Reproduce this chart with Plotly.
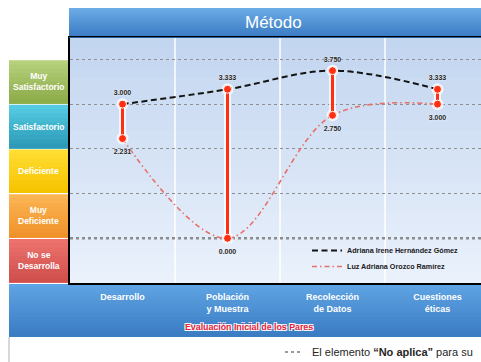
import plotly.graph_objects as go

# ---- data -------------------------------------------------------------
categories = ["Desarrollo", "Población y Muestra", "Recolección de Datos", "Cuestiones éticas"]
series_names = ["Adriana Irene Hernández Gómez", "Luz Adriana Orozco Ramírez"]
adriana_hernandez = [3.000, 3.333, 3.750, 3.333]
luz_orozco = [2.231, 0.000, 2.750, 3.000]
rating_levels = ["No se<br>Desarrolla", "Muy<br>Deficiente", "Deficiente", "Satisfactorio", "Muy<br>Satisfactorio"]
level_ticks = [0, 1, 2, 3, 4]
chart_title = "Método"
axis_title = "Evaluación Inicial de los Pares"
footnote = "El elemento <b>“No aplica”</b> para su<br> evaluación"

# ---- geometry helpers (figure pixels -> paper coordinates) -------------
W, H = 481, 362
ML, MR, MT, MB = 70, 0, 38, 79
PW, PH = W - ML - MR, H - MT - MB


def px_x(px):
    return (px - ML) / PW


def px_y(py):
    return (H - MB - py) / PH


def hex_to_rgb(c):
    c = c.lstrip("#")
    return tuple(int(c[i:i + 2], 16) for i in (0, 2, 4))


def mix(c1, c2, t):
    a, b = hex_to_rgb(c1), hex_to_rgb(c2)
    return "rgb(%d,%d,%d)" % tuple(round(a[i] + (b[i] - a[i]) * t) for i in range(3))


def gradient(x0, y0, x1, y1, top, bottom, n=16, xref="paper", yref="paper", layer="below"):
    """Vertical gradient: stacked rectangles, each running from its own start
    down to the bottom edge, so neighbouring bands never leave a seam."""
    out = []
    for i in range(n):
        ya = y0 + (y1 - y0) * i / n
        out.append(dict(type="rect", xref=xref, yref=yref, x0=x0, x1=x1, y0=ya, y1=y1,
                        fillcolor=mix(top, bottom, i / max(n - 1, 1)),
                        line=dict(width=0), layer=layer))
    return out


SANS = "Liberation Sans, Arial, sans-serif"

xs = list(range(len(categories)))
hi = [max(a, b) for a, b in zip(adriana_hernandez, luz_orozco)]
lo = [min(a, b) for a, b in zip(adriana_hernandez, luz_orozco)]

# high-low connector segments between the two evaluators
seg_x, seg_y = [], []
for x, h, l in zip(xs, hi, lo):
    seg_x += [x, x, None]
    seg_y += [h, l, None]

fig = go.Figure()

# soft white halo under the connectors
fig.add_trace(go.Scatter(x=seg_x, y=seg_y, mode="lines+markers", showlegend=False,
                         line=dict(color="rgba(255,255,255,0.75)", width=7),
                         marker=dict(size=12, color="rgba(255,255,255,0.75)"),
                         hoverinfo="skip"))

fig.add_trace(go.Scatter(x=xs, y=adriana_hernandez, name=series_names[0], mode="lines",
                         legend="legend",
                         line=dict(color="#141414", width=2, dash="6px,3.5px", shape="spline",
                                   smoothing=1)))
fig.add_trace(go.Scatter(x=xs, y=luz_orozco, name=series_names[1], mode="lines",
                         legend="legend2",
                         line=dict(color="#e8706a", width=1.6, dash="5px,3px,1.5px,3px",
                                   shape="spline", smoothing=1)))

fig.add_trace(go.Scatter(x=seg_x, y=seg_y, mode="lines+markers", showlegend=False,
                         line=dict(color="#ff2f12", width=3),
                         marker=dict(size=8, color="#ff2f12", line=dict(color="#ffffff", width=1)),
                         hoverinfo="skip"))

# value labels: an invisible marker keeps the text clear of the end points
label_font = dict(family=SANS, size=7, color="#262626", weight="bold",
                  shadow="0px 0px 2px #ffffff")
spacer = dict(size=10, color="rgba(0,0,0,0)")
fig.add_trace(go.Scatter(x=xs, y=hi, mode="markers+text", showlegend=False,
                         text=[f"{v:.3f}" for v in hi], marker=spacer,
                         textposition="top center", textfont=label_font, hoverinfo="skip"))
fig.add_trace(go.Scatter(x=xs, y=lo, mode="markers+text", showlegend=False,
                         text=[f"{v:.3f}" for v in lo], marker=dict(spacer, size=15),
                         textposition="bottom center", textfont=label_font, hoverinfo="skip"))

shapes = []
# plot background
shapes += gradient(0, 1, 1, 0, "#c3d6f0", "#eaf1fb", n=24)
# title bar
shapes += gradient(px_x(69), px_y(8), 1, px_y(37), "#6cabe6", "#3b7cc4", n=14)
shapes.append(dict(type="line", xref="paper", yref="paper", x0=px_x(69), x1=1,
                   y0=px_y(37.5), y1=px_y(37.5), line=dict(color="#2b5f9a", width=1)))
# bottom category bar
shapes += gradient(px_x(9), px_y(284), 1, px_y(337), "#5ea3e3", "#3b7cc3", n=16)
# white footnote panel border
shapes.append(dict(type="line", xref="paper", yref="paper", x0=px_x(9), x1=px_x(9),
                   y0=px_y(337), y1=px_y(362), line=dict(color="#b0b0b0", width=1)))

# rating boxes on the left, one per band between integer levels
box_colors = [("#ec726e", "#cf4f4b"), ("#fbb553", "#f0922c"), ("#ffdd33", "#f6c300"),
              ("#55cbe3", "#2d9bb7"), ("#b6d07b", "#8dac4a")]
annotations = []
for i, (label, (c_top, c_bot)) in enumerate(zip(rating_levels, box_colors)):
    y_low, y_high = i - 1, i
    shapes += gradient(px_x(9), y_high - 0.015, px_x(68), y_low + 0.015, c_top, c_bot, n=10,
                       yref="y")
    annotations.append(dict(xref="paper", yref="y", x=px_x(38.5), y=y_low + 0.5, text=label,
                            xanchor="center", yanchor="middle",
                            showarrow=False, align="center",
                            font=dict(family=SANS, size=8.5, color="white", weight="bold")))

# vertical separators between categories
for b in [x + 0.5 for x in xs[:-1]]:
    shapes.append(dict(type="line", xref="x", yref="paper", x0=b, x1=b, y0=0, y1=1,
                       line=dict(color="#ffffff", width=1.5), layer="below"))

# emphasised baseline at level 0
shapes.append(dict(type="line", xref="paper", yref="y", x0=0, x1=1, y0=0, y1=0,
                   line=dict(color="#8a8a8a", width=2.5, dash="dot"), layer="below"))

# footnote marker
shapes.append(dict(type="line", xref="paper", yref="paper", x0=px_x(285), x1=px_x(301),
                   y0=px_y(352), y1=px_y(352), line=dict(color="#9a9a9a", width=2, dash="dot")))

annotations.append(dict(xref="paper", yref="paper", x=px_x(273), y=px_y(22.5), text=chart_title,
                        xanchor="center", yanchor="middle", showarrow=False,
                        font=dict(family=SANS, size=17, color="white")))
annotations.append(dict(xref="paper", yref="paper", x=px_x(249), y=px_y(327), text=axis_title,
                        xanchor="center", yanchor="middle", showarrow=False,
                        font=dict(family=SANS, size=8.8, color="#e8223a", weight="bold",
                                  shadow="1px 1px 0px #ffffff, -1px -1px 0px #ffffff, 1px -1px 0px #ffffff, -1px 1px 0px #ffffff")))
annotations.append(dict(xref="paper", yref="paper", x=px_x(310), y=px_y(344), text=footnote,
                        xanchor="left", yanchor="top", align="left", showarrow=False,
                        font=dict(family=SANS, size=11, color="#262626")))

legend_style = dict(xanchor="left", yanchor="top", bgcolor="rgba(0,0,0,0)", itemwidth=30,
                    font=dict(family=SANS, size=7.2, color="#1a1a1a", weight="bold"))

fig.update_layout(
    width=W, height=H,
    margin=dict(l=ML, r=MR, t=MT, b=MB, pad=0, autoexpand=False),
    paper_bgcolor="white",
    plot_bgcolor="rgba(0,0,0,0)",
    shapes=shapes,
    annotations=annotations,
    showlegend=True,
    legend=dict(legend_style, x=px_x(307), y=px_y(236)),
    legend2=dict(legend_style, x=px_x(307), y=px_y(252)),
    xaxis=dict(range=[-0.5, 3.414], tickmode="array", tickvals=xs,
               ticktext=[c.replace(" ", "<br>", 1) for c in categories],
               ticks="outside", ticklen=4, tickcolor="rgba(0,0,0,0)",
               tickfont=dict(family=SANS, size=9, color="white", weight="bold"),
               showgrid=False, zeroline=False, showline=True, linecolor="#000000",
               linewidth=2, mirror=True, fixedrange=True, automargin=False),
    yaxis=dict(range=[-1.0, 4.48], tickmode="array", tickvals=level_ticks, showticklabels=False,
               showgrid=True, gridcolor="#8f8f8f", gridwidth=1, griddash="dot",
               zeroline=False, showline=True, linecolor="#000000", linewidth=2,
               fixedrange=True, automargin=False),
)

fig.write_html("out.html")
